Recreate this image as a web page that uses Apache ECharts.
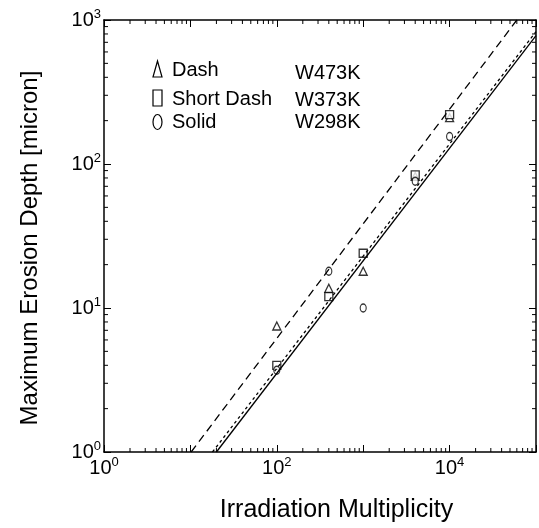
<!DOCTYPE html>
<html><head><meta charset="utf-8">
<script src="https://cdn.jsdelivr.net/npm/echarts@6/dist/echarts.min.js"></script>
<style>html,body{margin:0;padding:0;background:#fff}#c{width:539px;height:528px}</style>
</head><body><div id="c"></div>
<script>
const FONT = '"Liberation Sans", Arial, Helvetica, sans-serif';

// Measured points (Irradiation multiplicity vs max erosion depth, micron)
const multiplicity = [100, 400, 1000, 4000, 10000];
const depthW473K = [7.5, 13.7, 18, 82, 210];
const depthW373K = [4.0, 12, 24, 84, 220];
const depthW298K = [3.7, 18, 10, 76, 155];

// Fitted lines, end points
const fitDashX = [10.2, 60000];
const fitDashY = [1, 1000];
const fitShortDashX = [18, 100000];
const fitShortDashY = [1, 830];
const fitSolidX = [20, 100000];
const fitSolidY = [1, 780];

// Axis ticks / labels
const xTickValues = [1, 10, 100, 1000, 10000, 100000];
const xTickExponents = ['0', '', '2', '', '4', ''];
const yTickValues = [1, 10, 100, 1000];
const yTickExponents = ['0', '1', '2', '3'];
const minorMultipliers = [2, 3, 4, 5, 6, 7, 8, 9];

const legendRows = ['Dash', 'Short Dash', 'Solid'];
const legendSeries = ['W473K', 'W373K', 'W298K'];

function pairs(xs, ys) { return xs.map((x, i) => [x, ys[i]]); }

function labelFor(values, exps) {
  return function (v) {
    let idx = -1;
    values.forEach((t, i) => { if (Math.abs(Math.log10(t) - Math.log10(v)) < 1e-6) idx = i; });
    if (idx < 0 || exps[idx] === '') return '';
    return '{b|10}{s|' + exps[idx] + '}';
  };
}
const richLabel = {
  b: { fontSize: 20, fontFamily: FONT, color: '#000', lineHeight: 22 },
  s: { fontSize: 13, fontFamily: FONT, color: '#000', lineHeight: 13, padding: [0, 0, 12, 0] }
};

function decadeMinors(minExp, maxExp) {
  const out = [];
  for (let e = minExp; e < maxExp; e++) minorMultipliers.forEach(m => out.push(m * Math.pow(10, e)));
  return out;
}
const minorX = decadeMinors(0, 5);
const minorY = decadeMinors(0, 3);

const chart = echarts.init(document.getElementById('c'), null, { renderer: 'canvas' });
const axisLineStyle = { color: '#000', width: 1.5 };
chart.setOption({
  backgroundColor: '#fff',
  animation: false,
  grid: { left: 104, top: 20, width: 435, height: 435 },
  xAxis: [
    {
      type: 'log', logBase: 10, min: 1, max: 100000, position: 'bottom',
      name: 'Irradiation Multiplicity', nameLocation: 'middle', nameGap: 46,
      nameTextStyle: { fontFamily: FONT, fontSize: 25, color: '#000', padding: [0, 0, 0, 33] },
      axisLine: { show: true, lineStyle: axisLineStyle },
      axisTick: { show: true, inside: true, length: 7, lineStyle: { color: '#000', width: 1 } },
      axisLabel: { show: true, margin: 5, formatter: labelFor(xTickValues, xTickExponents), rich: richLabel },
      splitLine: { show: false }, minorTick: { show: false }
    },
    {
      type: 'log', logBase: 10, min: 1, max: 100000, position: 'top',
      axisLine: { show: true, lineStyle: axisLineStyle },
      axisTick: { show: true, inside: true, length: 7, lineStyle: { color: '#000', width: 1 } },
      axisLabel: { show: false }, splitLine: { show: false }
    }
  ],
  yAxis: [
    {
      type: 'log', logBase: 10, min: 1, max: 1000, position: 'left',
      name: 'Maximum Erosion Depth [micron]', nameLocation: 'middle', nameGap: 62,
      nameTextStyle: { fontFamily: FONT, fontSize: 24, color: '#000', padding: [0, 24, 0, 0] },
      axisLine: { show: true, lineStyle: axisLineStyle },
      axisTick: { show: true, inside: true, length: 7, lineStyle: { color: '#000', width: 1 } },
      axisLabel: { show: true, margin: 3, formatter: labelFor(yTickValues, yTickExponents), rich: richLabel },
      splitLine: { show: false }
    },
    {
      type: 'log', logBase: 10, min: 1, max: 1000, position: 'right',
      axisLine: { show: true, lineStyle: axisLineStyle },
      axisTick: { show: true, inside: true, length: 7, lineStyle: { color: '#000', width: 1 } },
      axisLabel: { show: false }, splitLine: { show: false }
    }
  ],
  series: [
    {
      name: 'minor ticks', type: 'custom', coordinateSystem: 'cartesian2d', xAxisIndex: 0, yAxisIndex: 0,
      silent: true, clip: false, data: [[1, 1]],
      renderItem: function (params, api) {
        const bl = api.coord([1, 1]);
        const tr = api.coord([100000, 1000]);
        const L = 4, children = [];
        const st = { stroke: '#000', lineWidth: 1 };
        minorX.forEach(v => {
          const x = api.coord([v, 1])[0];
          children.push({ type: 'line', shape: { x1: x, y1: bl[1], x2: x, y2: bl[1] - L }, style: st });
          children.push({ type: 'line', shape: { x1: x, y1: tr[1], x2: x, y2: tr[1] + L }, style: st });
        });
        minorY.forEach(v => {
          const y = api.coord([1, v])[1];
          children.push({ type: 'line', shape: { x1: bl[0], y1: y, x2: bl[0] + L, y2: y }, style: st });
          children.push({ type: 'line', shape: { x1: tr[0], y1: y, x2: tr[0] - L, y2: y }, style: st });
        });
        return { type: 'group', children: children };
      }
    },
    {
      name: 'Dash fit W473K', type: 'line', data: pairs(fitDashX, fitDashY), showSymbol: false, symbol: 'none',
      lineStyle: { color: '#000', width: 1.3, type: [8, 5] }, clip: true
    },
    {
      name: 'Short Dash fit W373K', type: 'line', data: pairs(fitShortDashX, fitShortDashY), showSymbol: false, symbol: 'none',
      lineStyle: { color: '#000', width: 1.3, type: [3, 3] }, clip: true
    },
    {
      name: 'Solid fit W298K', type: 'line', data: pairs(fitSolidX, fitSolidY), showSymbol: false, symbol: 'none',
      lineStyle: { color: '#000', width: 1.3, type: 'solid' }, clip: true
    },
    {
      name: 'W473K', type: 'scatter', data: pairs(multiplicity, depthW473K), symbol: 'triangle', symbolSize: [8, 8],
      itemStyle: { color: '#fff', borderColor: '#000', borderWidth: 1.3 }
    },
    {
      name: 'W373K', type: 'scatter', data: pairs(multiplicity, depthW373K), symbol: 'rect', symbolSize: [8, 8],
      itemStyle: { color: '#fff', borderColor: '#000', borderWidth: 1.3 }
    },
    {
      name: 'W298K', type: 'scatter', data: pairs(multiplicity, depthW298K), symbol: 'circle', symbolSize: [6, 8],
      itemStyle: { color: '#fff', borderColor: '#000', borderWidth: 1.3 }
    }
  ],
  graphic: [
    { type: 'polygon', shape: { points: [[157.5, 61], [153, 77], [162, 77]] }, style: { fill: '#fff', stroke: '#000', lineWidth: 1.2 } },
    { type: 'rect', shape: { x: 153, y: 90, width: 9, height: 16 }, style: { fill: '#fff', stroke: '#000', lineWidth: 1.2 } },
    { type: 'ellipse', shape: { cx: 157.5, cy: 122, rx: 4.5, ry: 7.5 }, style: { fill: '#fff', stroke: '#000', lineWidth: 1.2 } },
    { type: 'text', x: 172, y: 70, style: { text: legendRows[0], font: '20px ' + FONT, fill: '#000', verticalAlign: 'middle' } },
    { type: 'text', x: 172, y: 99, style: { text: legendRows[1], font: '20px ' + FONT, fill: '#000', verticalAlign: 'middle' } },
    { type: 'text', x: 172, y: 122, style: { text: legendRows[2], font: '20px ' + FONT, fill: '#000', verticalAlign: 'middle' } },
    { type: 'text', x: 295, y: 73, style: { text: legendSeries[0], font: '20px ' + FONT, fill: '#000', verticalAlign: 'middle' } },
    { type: 'text', x: 295, y: 100, style: { text: legendSeries[1], font: '20px ' + FONT, fill: '#000', verticalAlign: 'middle' } },
    { type: 'text', x: 295, y: 122, style: { text: legendSeries[2], font: '20px ' + FONT, fill: '#000', verticalAlign: 'middle' } }
  ]
});
</script></body></html>
